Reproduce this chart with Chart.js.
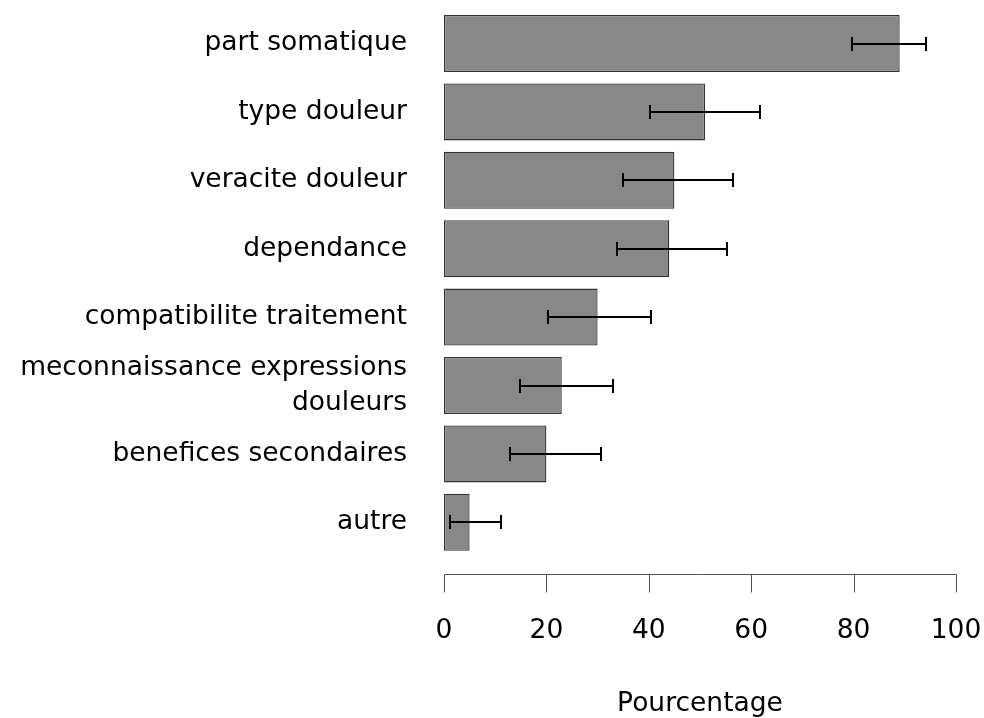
<!DOCTYPE html>
<html>
<head>
<meta charset="utf-8">
<script src="https://cdn.jsdelivr.net/npm/chart.js@4/dist/chart.umd.min.js"></script>
<style>
  html, body { margin: 0; padding: 0; background: #ffffff; }
  #wrap { width: 984px; height: 718px; }
</style>
</head>
<body>
<div id="wrap"><canvas id="c" width="984" height="718"></canvas></div>
<script>
// ---- data ----
const categories = [
  'part somatique',
  'type douleur',
  'veracite douleur',
  'dependance',
  'compatibilite traitement',
  ['meconnaissance expressions', 'douleurs'],
  'benefices secondaires',
  'autre'
];
const percentages = [89, 51, 45, 44, 30, 23, 20, 5];
const errorLow  = [79.6, 40.2, 34.9, 33.7, 20.4, 14.8, 12.8, 1.2];
const errorHigh = [94.1, 61.8, 56.4, 55.2, 40.4, 33.1, 30.6, 11.1];
const xTickValues = [0, 20, 40, 60, 80, 100];
const xAxisTitle = 'Pourcentage';

const FONT_FAMILY = '"DejaVu Sans", "Liberation Sans", Arial, sans-serif';
const FONT_SIZE = 26.5;

// error bars drawn through the chart's scales
const errorBarPlugin = {
  id: 'errorBars',
  afterDatasetsDraw(chart) {
    const ctx = chart.ctx;
    const xs = chart.scales.x, ys = chart.scales.y;
    ctx.save();
    ctx.strokeStyle = '#000000';
    ctx.lineWidth = 2;
    const cap = 7;
    for (let i = 0; i < categories.length; i++) {
      const y = Math.round(ys.getPixelForValue(i));
      const x1 = Math.round(xs.getPixelForValue(errorLow[i]));
      const x2 = Math.round(xs.getPixelForValue(errorHigh[i]));
      ctx.beginPath();
      ctx.moveTo(x1, y); ctx.lineTo(x2, y);
      ctx.moveTo(x1, y - cap); ctx.lineTo(x1, y + cap);
      ctx.moveTo(x2, y - cap); ctx.lineTo(x2, y + cap);
      ctx.stroke();
    }
    ctx.restore();
  }
};

// R-style x axis: line from first to last tick, ticks pointing down
const rAxisPlugin = {
  id: 'rAxis',
  afterDraw(chart) {
    const ctx = chart.ctx;
    const xs = chart.scales.x;
    const yAxis = chart.chartArea.bottom + 17;
    const tickLen = 18;
    ctx.save();
    ctx.strokeStyle = '#505050';
    ctx.lineWidth = 1;
    ctx.beginPath();
    const xa = Math.round(xs.getPixelForValue(xTickValues[0])) + 0.5;
    const xb = Math.round(xs.getPixelForValue(xTickValues[xTickValues.length - 1])) + 0.5;
    const yy = Math.round(yAxis) + 0.5;
    ctx.moveTo(xa, yy); ctx.lineTo(xb, yy);
    for (const v of xTickValues) {
      const px = Math.round(xs.getPixelForValue(v)) + 0.5;
      ctx.moveTo(px, yy); ctx.lineTo(px, yy + tickLen);
    }
    ctx.stroke();
    ctx.restore();
  }
};

function zeroPadding(scale) {
  scale.paddingLeft = 0;
  scale.paddingRight = 0;
  scale.paddingTop = 0;
  scale.paddingBottom = 0;
}

new Chart(document.getElementById('c'), {
  type: 'bar',
  data: {
    labels: categories,
    datasets: [{
      data: percentages,
      backgroundColor: '#888888',
      borderColor: '#333333',
      borderWidth: 1.3,
      borderSkipped: false,
      categoryPercentage: 1.0,
      barPercentage: 0.833
    }]
  },
  options: {
    indexAxis: 'y',
    responsive: false,
    devicePixelRatio: 1,
    animation: false,
    layout: { padding: { top: 9.3, right: 28, bottom: 0, left: 0 } },
    plugins: {
      legend: { display: false },
      tooltip: { enabled: false }
    },
    scales: {
      x: {
        type: 'linear',
        min: 0,
        max: 100,
        afterFit(scale) { scale.height = 161.5; zeroPadding(scale); },
        afterBuildTicks(scale) { scale.ticks = xTickValues.map(v => ({ value: v })); },
        grid: { display: false, drawTicks: false },
        border: { display: false },
        ticks: {
          color: '#000000',
          padding: 59,
          font: { family: FONT_FAMILY, size: FONT_SIZE, lineHeight: 1.2 },
          maxRotation: 0
        },
        title: {
          display: true,
          text: xAxisTitle,
          color: '#000000',
          padding: { top: 0, bottom: -2 },
          font: { family: FONT_FAMILY, size: FONT_SIZE, lineHeight: 1.2 }
        }
      },
      y: {
        type: 'category',
        afterFit(scale) { scale.width = 444; zeroPadding(scale); },
        grid: { display: false, drawTicks: false },
        border: { display: false },
        ticks: {
          color: '#000000',
          padding: 37,
          crossAlign: 'near',
          autoSkip: false,
          font: { family: FONT_FAMILY, size: FONT_SIZE, lineHeight: 1.32 }
        }
      }
    }
  },
  plugins: [errorBarPlugin, rAxisPlugin]
});
</script>
</body>
</html>
